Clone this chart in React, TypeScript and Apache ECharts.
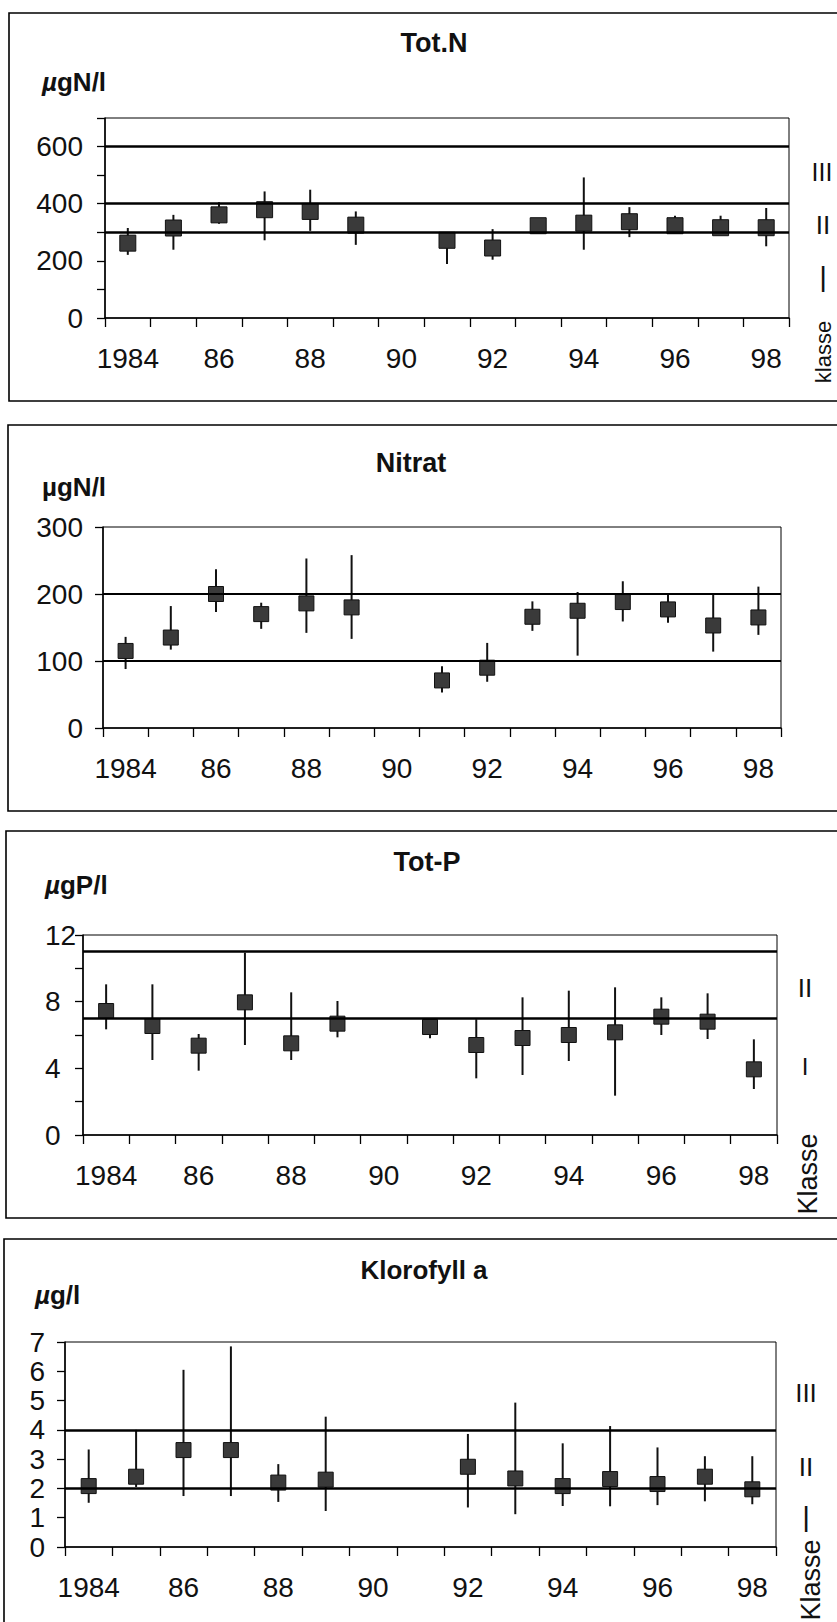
import React, { useEffect, useRef } from "react";
import * as echarts from "echarts";

// ---------- data ----------
const years = ["1984","1985","1986","1987","1988","1989","1990","1991","1992","1993","1994","1995","1996","1997","1998"];

const totNMean = [262, 315, 361, 379, 373, 325, null, 272, 245, 323, 332, 337, 323, 316, 316];
const totNMax  = [315, 361, 405, 443, 449, 373, null, 300, 311, 345, 492, 388, 358, 358, 385];
const totNMin  = [221, 239, 330, 272, 305, 256, null, 189, 204, 305, 239, 283, 297, 290, 251];
const totNLines = [300, 400, 600];

const nitratMean = [115, 135, 200, 170, 186, 180, null, 71, 90, 166, 175, 188, 177, 153, 165];
const nitratMax  = [136, 182, 237, 187, 253, 258, null, 92, 127, 189, 203, 219, 200, 201, 211];
const nitratMin  = [88, 117, 173, 148, 142, 133, null, 53, 69, 145, 108, 159, 157, 114, 139];
const nitratLines = [100, 200];

const totPMean = [7.44, 6.54, 5.36, 7.96, 5.5, 6.68, null, 6.48, 5.4, 5.82, 6.0, 6.16, 7.1, 6.8, 3.94];
const totPMax  = [9.04, 9.04, 6.06, 10.94, 8.56, 8.04, null, 6.9, 6.94, 8.26, 8.66, 8.86, 8.26, 8.5, 5.74];
const totPMin  = [6.34, 4.5, 3.86, 5.4, 4.5, 5.86, null, 5.8, 3.4, 3.6, 4.44, 2.36, 6.0, 5.76, 2.76];
const totPLines = [7, 11];

const klorMean = [2.08, 2.4, 3.31, 3.31, 2.2, 2.3, null, null, 2.74, 2.34, 2.08, 2.32, 2.15, 2.4, 1.97];
const klorMax  = [3.33, 4.0, 6.05, 6.85, 2.83, 4.45, null, null, 3.86, 4.93, 3.54, 4.13, 3.4, 3.1, 3.1];
const klorMin  = [1.51, 2.05, 1.74, 1.74, 1.54, 1.23, null, null, 1.35, 1.12, 1.4, 1.39, 1.43, 1.56, 1.46];
const klorLines = [2, 4];

const FONT = '"Liberation Sans", Arial, Helvetica, sans-serif';
const INK = "#111";
const AXIS_FONT = 28;

type Panel = {
  mean: (number | null)[];
  min: (number | null)[];
  max: (number | null)[];
  lines: number[];
  grid: { left: number; top: number; width: number; height: number };
  yMax: number;
  yInterval: number;
  labelEvery: number;
  labelMargin: number;
  labelAlign?: string;
  lineWidth: number;
  symbolSize: number;
};

const panels: Panel[] = [
  { mean: totNMean, min: totNMin, max: totNMax, lines: totNLines,
    grid: { left: 105, top: 118, width: 684, height: 200 },
    yMax: 700, yInterval: 100, labelEvery: 200, labelMargin: 22, lineWidth: 2.5, symbolSize: 16 },
  { mean: nitratMean, min: nitratMin, max: nitratMax, lines: nitratLines,
    grid: { left: 103, top: 527, width: 678, height: 201 },
    yMax: 300, yInterval: 100, labelEvery: 100, labelMargin: 20, lineWidth: 2, symbolSize: 15 },
  { mean: totPMean, min: totPMin, max: totPMax, lines: totPLines,
    grid: { left: 83, top: 935, width: 694, height: 200 },
    yMax: 12, yInterval: 2, labelEvery: 4, labelMargin: 38, labelAlign: "left", lineWidth: 2.5, symbolSize: 15 },
  { mean: klorMean, min: klorMin, max: klorMax, lines: klorLines,
    grid: { left: 65, top: 1342, width: 711, height: 205 },
    yMax: 7, yInterval: 1, labelEvery: 1, labelMargin: 20, lineWidth: 2.5, symbolSize: 15 },
];

function txt(text: string, x: number, y: number, size: number, opts: any = {}) {
  const align = opts.align || "left";
  return {
    type: "text",
    x, y,
    rotation: opts.rotation || 0,
    scaleY: opts.scaleY || 1,
    scaleX: opts.scaleX || 1,
    z: 10,
    style: {
      text,
      fontSize: size,
      fontWeight: opts.bold ? "bold" : "normal",
      fontFamily: FONT,
      fill: INK,
      align, textAlign: align,
      verticalAlign: "middle", textVerticalAlign: "middle",
      rich: opts.rich,
    },
  };
}

function frame(x: number, y: number, w: number, h: number) {
  return {
    type: "rect",
    shape: { x, y, width: w, height: h },
    style: { fill: "none", stroke: "#000", lineWidth: 1.6 },
    z: 1,
  };
}

const italicMu = (size: number) => ({
  i: { fontStyle: "italic", fontWeight: "bold", fontSize: size, fontFamily: FONT, fill: INK },
  n: { fontWeight: "bold", fontSize: size, fontFamily: FONT, fill: INK },
});

export default function App() {
  const ref = useRef<HTMLDivElement>(null);
  useEffect(() => {
    if (!ref.current) return;
    const chart = echarts.init(ref.current, null, { renderer: "svg" });

    const grids = panels.map((p) => ({ ...p.grid, show: true, borderColor: "#000", borderWidth: 1, backgroundColor: "transparent" }));
    const xAxes = panels.map((p, i) => ({
      type: "category",
      gridIndex: i,
      data: years,
      boundaryGap: true,
      axisLine: { show: true, lineStyle: { color: "#000", width: 1.5 } },
      axisTick: { show: true, interval: 0, length: 9, lineStyle: { color: "#000", width: 1.3 } },
      axisLabel: {
        interval: 1,
        margin: 26,
        fontSize: AXIS_FONT,
        fontFamily: FONT,
        color: INK,
        formatter: (v: string, idx: number) => (idx === 0 ? v : v.slice(2)),
      },
      splitLine: { show: false },
    }));
    const yAxes = panels.map((p, i) => ({
      type: "value",
      gridIndex: i,
      min: 0,
      max: p.yMax,
      interval: p.yInterval,
      axisLine: { show: true, lineStyle: { color: "#000", width: 1.5 } },
      axisTick: { show: true, length: 8, lineStyle: { color: "#000", width: 1.3 } },
      axisLabel: {
        margin: p.labelMargin,
        align: p.labelAlign,
        fontSize: AXIS_FONT,
        fontFamily: FONT,
        color: INK,
        formatter: (v: number) => (Math.abs(v / p.labelEvery - Math.round(v / p.labelEvery)) < 1e-9 ? String(v) : ""),
      },
      splitLine: { show: false },
    }));

    const series: any[] = [];
    panels.forEach((p, i) => {
      const barData: number[][] = [];
      const ptData: number[][] = [];
      years.forEach((_, k) => {
        const lo = p.min[k], hi = p.max[k], m = p.mean[k];
        if (lo != null && hi != null) barData.push([k, lo, hi]);
        if (m != null) ptData.push([k, m]);
      });
      series.push({
        type: "custom",
        xAxisIndex: i,
        yAxisIndex: i,
        z: 2,
        silent: true,
        encode: { x: 0, y: [1, 2] },
        data: barData,
        renderItem: (params: any, api: any) => {
          const x = api.value(0);
          const a = api.coord([x, api.value(1)]);
          const b = api.coord([x, api.value(2)]);
          return {
            type: "line",
            shape: { x1: a[0], y1: a[1], x2: b[0], y2: b[1] },
            style: { stroke: "#111", lineWidth: 2 },
          };
        },
        markLine: {
          silent: true,
          symbol: "none",
          label: { show: false },
          lineStyle: { color: "#000", width: p.lineWidth, type: "solid" },
          data: p.lines.map((v) => ({ yAxis: v })),
        },
      });
      series.push({
        type: "scatter",
        xAxisIndex: i,
        yAxisIndex: i,
        z: 3,
        silent: true,
        symbol: "rect",
        symbolSize: p.symbolSize,
        itemStyle: { color: "#3a3a3a", borderColor: "#111", borderWidth: 1, opacity: 1 },
        data: ptData,
      });
    });

    const graphic: any[] = [
      frame(9, 13, 900, 388),
      frame(8, 425, 900, 386),
      frame(6, 831, 900, 387),
      frame(4, 1239, 900, 400),
      // titles
      txt("Tot.N", 434, 43, 27, { bold: true, align: "center" }),
      txt("Nitrat", 411, 463, 27, { bold: true, align: "center" }),
      txt("Tot-P", 427, 862, 27, { bold: true, align: "center" }),
      txt("Klorofyll a", 424, 1270, 26, { bold: true, align: "center" }),
      // units
      txt("{i|µ}{n|gN/l}", 42, 82, 26, { rich: italicMu(26) }),
      txt("µgN/l", 42, 487, 26, { bold: true }),
      txt("{i|µ}{n|gP/l}", 45, 885, 26, { rich: italicMu(26) }),
      txt("{i|µ}{n|g/l}", 35, 1295, 26, { rich: italicMu(26) }),
      // class labels panel 1
      txt("III", 822, 172, 25, { align: "center" }),
      txt("II", 823, 225, 26, { align: "center" }),
      txt("I", 823, 279, 26, { align: "center", scaleY: 1.4 }),
      txt("klasse", 823, 352, 22, { align: "center", rotation: Math.PI / 2 }),
      // panel 3
      txt("II", 805, 988, 26, { align: "center" }),
      txt("I", 805, 1066, 24, { align: "center" }),
      txt("Klasse", 808, 1174, 27, { align: "center", rotation: Math.PI / 2 }),
      // panel 4
      txt("III", 806, 1393, 26, { align: "center" }),
      txt("II", 806, 1467, 26, { align: "center" }),
      txt("I", 806, 1519, 26, { align: "center", scaleY: 1.45 }),
      txt("Klasse", 811, 1580, 27, { align: "center", rotation: Math.PI / 2 }),
    ];

    chart.setOption({
      animation: false,
      backgroundColor: "#fff",
      textStyle: { fontFamily: FONT },
      grid: grids,
      xAxis: xAxes,
      yAxis: yAxes,
      series,
      graphic,
    });
    return () => chart.dispose();
  }, []);

  return (
    <div
      ref={ref}
      style={{ position: "absolute", left: 0, top: 0, width: 837, height: 1622, background: "#fff" }}
    />
  );
}
